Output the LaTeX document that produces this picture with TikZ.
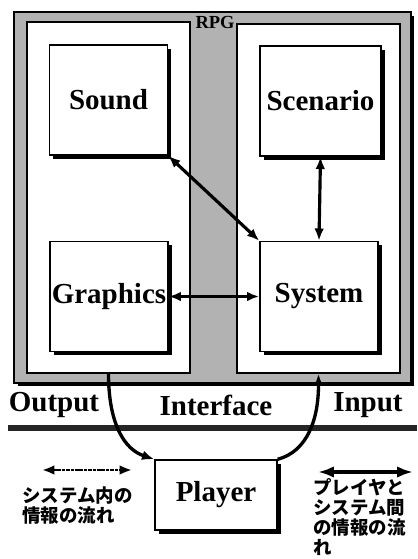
\documentclass[tikz,border=0pt]{standalone}
\usepackage{fontspec}
\setmainfont{Liberation Serif}
\newfontfamily\jpfont{Noto Sans CJK JP}
\usetikzlibrary{arrows.meta,shadows}

\tikzset{
  blackshadow/.style={drop shadow={shadow xshift=2pt, shadow yshift=-2pt, fill=black, opacity=1}},
  panel/.style={draw, line width=0.8pt, fill=white, inner sep=0pt},
  module/.style={draw, line width=0.8pt, fill=white, inner sep=0pt, minimum width=2.36cm, minimum height=2.2cm, font=\bfseries\fontsize{16.5}{18}\selectfont, blackshadow},
  intra/.style={line width=1.8pt, {Latex[length=7pt,width=5.5pt]}-{Latex[length=7pt,width=5.5pt]}},
  inter/.style={line width=1.9pt, -{Latex[length=7pt,width=5.5pt]}},
  ioname/.style={font=\bfseries\fontsize{16.5}{18}\selectfont},
  legendtext/.style={font=\jpfont\bfseries\fontsize{10.5}{11.5}\selectfont, align=left, anchor=north west, inner sep=0pt},
}

\begin{document}
\begin{tikzpicture}[x=0.02cm, y=-0.02cm]
    \useasboundingbox (0, 0) rectangle (417, 559);
    % RPG frame and its two halves
    \node[draw, line width=0.8pt, fill=black!30, minimum width=7.94cm, minimum height=7.42cm, blackshadow] (rpg) at (212.5, 197.5) {};
    \node[panel, minimum width=3.26cm, minimum height=7.02cm] (outL) at (108.5, 197.5) {};
    \node[panel, minimum width=3.26cm, minimum height=6.98cm] (outR) at (318.5, 198.5) {};
    \node[font=\bfseries\fontsize{10.5}{11}\selectfont, inner sep=0pt] (rpgname) at (215, 22) {RPG};
    % modules
    \node[module] (sound) at (108.5, 100) {Sound};
    \node[module, minimum width=2.42cm] (scenario) at (320.5, 101) {Scenario};
    \node[module] (graphics) at (109, 296.5) {Graphics};
    \node[module] (system) at (319, 296.5) {System};
    \draw[intra] (sound.south east) -- (system.north west);
    \draw[intra] (scenario.south) -- (system.north);
    \draw[intra] (graphics.east) -- (system.west);
    % interface
    \node[ioname] (output) at (54, 405) {Output};
    \node[ioname] (interface) at (216, 405) {Interface};
    \node[ioname] (input) at (368, 405) {Input};
    \coordinate (barL) at (8, 428);
    \coordinate (barR) at (417, 428);
    \draw[line width=3pt, black!85] (barL) -- (barR);
    % player
    \node[module, minimum width=2.44cm, minimum height=1.4cm] (player) at (216, 495) {Player};
    \draw[inter] (outL.south) .. controls +(0, 50) and +(-30, -10) .. (player.north west);
    \draw[inter] (player.north east) .. controls +(30, -8) and +(0, 45) .. (outR.south);
    % legend
    \coordinate (intraL) at (42, 470);
    \coordinate (intraR) at (132, 470);
    \coordinate (interL) at (318, 472);
    \coordinate (interR) at (413, 472);
    \draw[intra, line width=1.4pt, dash pattern=on 2pt off 0.5pt] (intraL) -- (intraR);
    \draw[line width=2pt, {Latex[length=9pt,width=6.5pt]}-{Latex[length=9pt,width=6.5pt]}] (interL) -- (interR);
    \node[legendtext] (intratext) at (22, 486) {システム内の\\情報の流れ};
    \node[legendtext] (intertext) at (313, 478) {プレイヤと\\システム間\\の情報の流\\れ};
\end{tikzpicture}
\end{document}
